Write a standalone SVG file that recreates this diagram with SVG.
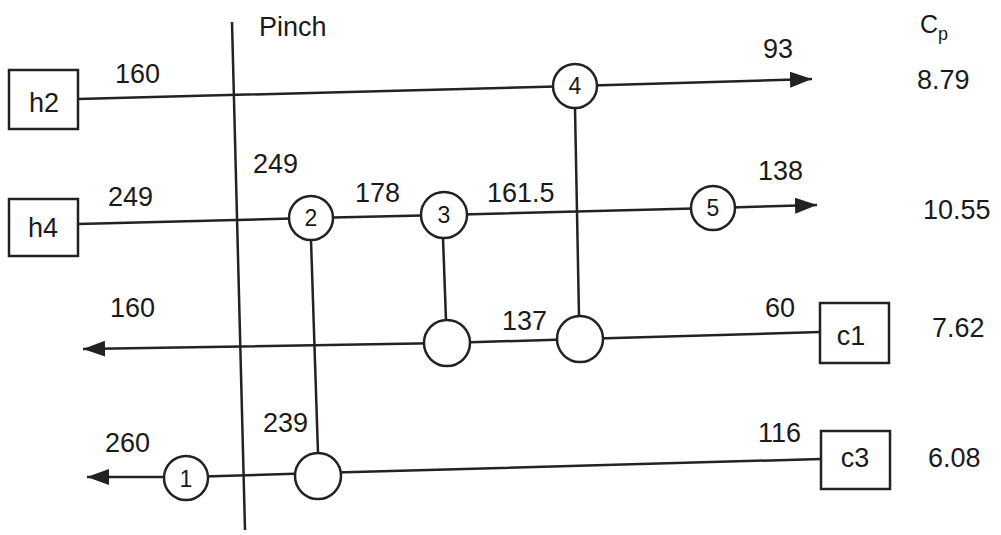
<svg xmlns="http://www.w3.org/2000/svg" width="1001" height="535" viewBox="0 0 1001 535">
<defs>
<marker id="arr" markerUnits="userSpaceOnUse" markerWidth="26" markerHeight="20" refX="22" refY="8" orient="auto">
<path d="M0,0 L22,8 L0,16 Z" fill="#222"/>
</marker>
<style>
.ln{stroke:#222;stroke-width:2.5;fill:none}
.bx{stroke:#222;stroke-width:2.5;fill:#fff}
.cx{stroke:#222;stroke-width:2.5;fill:#fff}
text{font-family:"Liberation Sans",Arial,sans-serif;fill:#1a1a1a}
.t{font-size:27px}
.b{font-size:27px;text-anchor:middle}
.c{font-size:23px;text-anchor:middle}
</style>
</defs>
<rect width="1001" height="535" fill="#fff"/>
<g id="pinch">
<line class="ln" x1="232" y1="22" x2="245" y2="530"/>
<text class="t" x="259" y="36">Pinch</text>
</g>
<g id="connectors">
<polyline class="ln" points="78,99 575,86 812,79" marker-end="url(#arr)"/>
<polyline class="ln" points="78,224 311,218 444,215 713,208 817,205" marker-end="url(#arr)"/>
<polyline class="ln" points="820,332 580,339 447,343 83,349" marker-end="url(#arr)"/>
<polyline class="ln" points="821,459 318,473 186,477 87,477" marker-end="url(#arr)"/>
<line class="ln" x1="311" y1="240" x2="318" y2="453"/>
<line class="ln" x1="443" y1="238" x2="446" y2="320"/>
<line class="ln" x1="575" y1="108" x2="579" y2="316"/>
</g>
<g id="h2"><rect class="bx" x="9" y="70" width="69" height="59"/><text class="b" x="44" y="112">h2</text></g>
<g id="h4"><rect class="bx" x="9" y="199" width="69" height="57"/><text class="b" x="43" y="237">h4</text></g>
<g id="c1"><rect class="bx" x="820" y="303" width="69" height="60"/><text class="b" x="851" y="345">c1</text></g>
<g id="c3"><rect class="bx" x="821" y="431" width="69" height="58"/><text class="b" x="855" y="467">c3</text></g>
<g id="ex1"><circle class="cx" cx="186" cy="478" r="22"/><text class="c" x="186" y="487">1</text></g>
<g id="ex2"><circle class="cx" cx="311" cy="218" r="22"/><text class="c" x="311" y="226">2</text></g>
<g id="ex3"><circle class="cx" cx="444" cy="215" r="23"/><text class="c" x="444" y="223">3</text></g>
<g id="ex4"><circle class="cx" cx="575" cy="86" r="22"/><text class="c" x="575" y="94">4</text></g>
<g id="ex5"><circle class="cx" cx="713" cy="208" r="22"/><text class="c" x="713" y="216">5</text></g>
<g id="ex3c"><circle class="cx" cx="447" cy="343" r="23"/></g>
<g id="ex4c"><circle class="cx" cx="580" cy="339" r="23"/></g>
<g id="ex2c"><circle class="cx" cx="318" cy="476" r="23"/></g>
<g id="labels">
<text class="t" x="115" y="83">160</text>
<text class="t" x="763" y="58">93</text>
<text class="t" x="108" y="206">249</text>
<text class="t" x="253" y="173">249</text>
<text class="t" x="355" y="202">178</text>
<text class="t" x="487" y="202">161.5</text>
<text class="t" x="758" y="180">138</text>
<text class="t" x="110" y="317">160</text>
<text class="t" x="502" y="330">137</text>
<text class="t" x="765" y="317">60</text>
<text class="t" x="263" y="432">239</text>
<text class="t" x="105" y="452">260</text>
<text class="t" x="758" y="442">116</text>
</g>
<g id="cp">
<text class="t" x="920" y="33" style="font-size:25px">C<tspan dy="7" style="font-size:18px">p</tspan></text>
<text class="t" x="917" y="89">8.79</text>
<text class="t" x="923" y="219">10.55</text>
<text class="t" x="932" y="337">7.62</text>
<text class="t" x="928" y="467">6.08</text>
</g>
</svg>
